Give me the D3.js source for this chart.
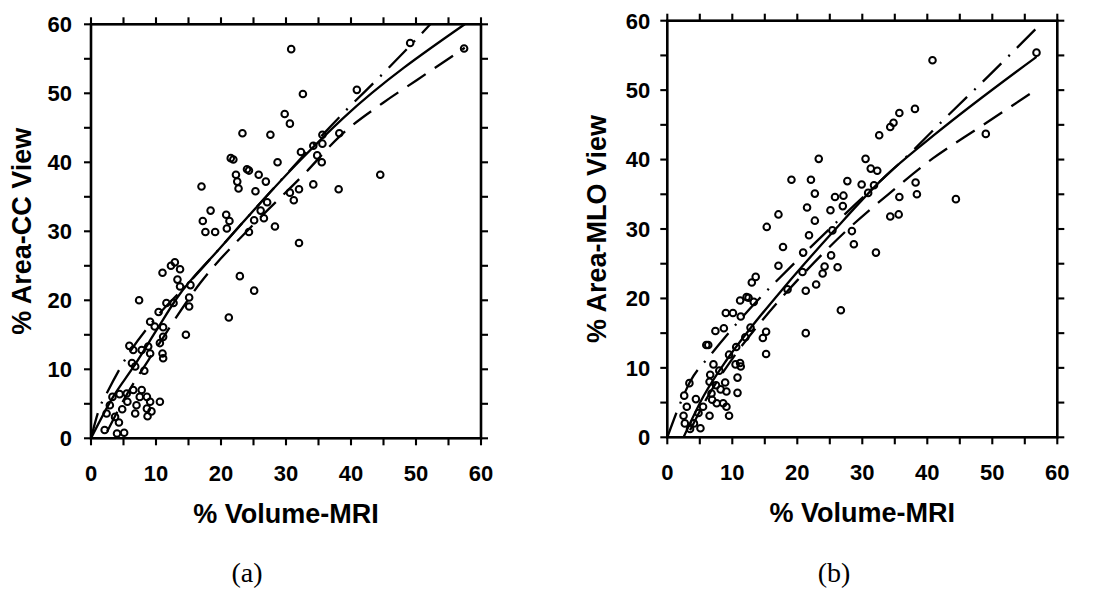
<!DOCTYPE html>
<html>
<head>
<meta charset="utf-8">
<script src="https://cdn.jsdelivr.net/npm/d3@7"></script>
<style>
  body { margin: 0; background: #fff; }
  text { font-family: "Liberation Sans", Arial, sans-serif; font-weight: bold; fill: #000; }
</style>
</head>
<body>
<div id="root"></div>
<script>
// tick values (labels only on multiples of 10)
var tickVals = d3.range(0, 61, 5);
var labelVals = [0, 10, 20, 30, 40, 50, 60];

// panel (a): % Area-CC vs % Volume-MRI
var ccPoints = [
  [30.8,56.4],[49.1,57.3],[57.4,56.5],[32.6,49.9],[40.9,50.5],[29.8,47.0],[30.6,45.6],
  [23.3,44.2],[27.6,44.0],[35.6,44.0],[38.2,44.2],[34.2,42.4],[35.6,42.7],[32.3,41.5],
  [34.8,41.0],[35.5,40.0],[28.7,40.0],[21.5,40.6],[21.9,40.4],[24.0,39.0],[24.3,38.8],[22.3,38.2],
  [22.5,37.2],[22.7,36.2],[25.8,38.2],[26.9,37.2],[17.0,36.5],[25.3,35.8],[30.6,35.6],
  [32.0,36.1],[31.2,34.5],[34.2,36.8],[38.1,36.1],[44.5,38.2],[27.1,34.2],[18.4,33.0],
  [20.8,32.4],[21.3,31.5],[20.9,30.4],[17.2,31.5],[17.6,29.9],[19.1,29.9],[24.3,29.9],
  [26.1,33.0],[26.6,31.9],[25.1,31.6],[28.3,30.7],[32.0,28.3],[22.9,23.5],[25.1,21.4],
  [11.0,24.0],[12.3,25.0],[12.9,25.5],[13.7,24.5],[13.3,23.0],[15.3,22.2],[7.4,20.0],
  [15.1,20.4],[21.2,17.5],[14.6,15.0],[15.1,19.1],[13.7,22.0],[11.6,19.6],[12.7,19.6],
  [10.4,18.3],[9.1,16.9],[9.8,16.2],[11.1,16.1],[11.1,14.7],[10.6,13.8],[11.0,12.3],
  [11.1,11.6],[8.8,13.3],[9.1,12.3],[7.8,12.8],[5.9,13.4],[6.5,12.8],[6.3,10.9],
  [6.8,10.4],[8.2,9.8],[6.5,7.0],[7.8,7.0],[8.6,6.0],[9.1,5.3],[8.6,4.3],[9.3,3.9],
  [8.7,3.2],[10.6,5.3],[7.0,4.8],[6.8,3.6],[7.5,6.0],[5.5,6.5],[5.6,5.3],[4.8,4.2],
  [4.4,6.4],[3.3,6.0],[2.9,4.8],[2.4,3.6],[3.7,3.1],[4.3,2.3],[2.1,1.2],[4.0,0.7],[5.1,0.8]
];
var ccSolid   = [[0,0],[3.4,6],[6.5,10.3],[10.1,15.7],[13.2,20.3],[19.8,27.5],[32.2,40.3],[38.8,46.4],[57.5,60]];
var ccDash    = [[2.5,1],[5,5.5],[10,13],[16.8,22.5],[25,31],[33,38.5],[38.3,43.8],[44.9,48.6],[50.1,51.9],[57.5,56.6]];
var ccDashDot = [[0,0],[1.4,4.6],[2.4,6.5],[5.5,11.8],[10,17.5],[15,22.5],[25,33],[39.3,47.6],[45.5,53.4],[52.2,60]];

// panel (b): % Area-MLO vs % Volume-MRI
var mloPoints = [
  [40.8,54.3],[56.8,55.4],[49.0,43.7],[38.1,47.3],[35.7,46.7],[34.8,45.3],[34.3,44.7],
  [32.6,43.5],[23.3,40.1],[30.5,40.1],[31.3,38.7],[32.3,38.4],[19.1,37.1],[22.1,37.1],
  [27.7,36.9],[29.9,36.4],[31.8,36.3],[30.9,35.2],[38.2,36.7],[38.4,35.0],[35.7,34.6],
  [34.3,31.8],[35.6,32.1],[44.4,34.3],[22.7,35.1],[25.8,34.6],[27.1,34.8],[27.0,33.3],
  [21.5,33.1],[25.1,32.7],[17.1,32.1],[22.7,31.2],[15.3,30.3],[21.8,29.1],[25.4,29.8],
  [28.4,29.7],[28.7,27.8],[32.1,26.6],[17.8,27.4],[20.9,26.6],[25.2,26.2],[17.1,24.7],
  [20.8,23.8],[24.2,24.6],[23.9,23.6],[26.2,24.5],[18.5,21.3],[21.3,21.1],[22.9,22.0],
  [13.6,23.1],[13.0,22.3],[12.2,20.2],[26.7,18.3],[21.3,15.0],[11.2,19.7],[13.3,19.5],
  [12.5,20.1],[9.0,17.9],[10.1,17.9],[11.3,17.4],[7.4,15.3],[8.7,15.7],[6.0,13.3],[6.3,13.3],
  [15.2,15.2],[14.7,14.3],[15.2,12.0],[12.8,15.8],[12.0,14.4],[10.6,13.0],[9.5,11.9],
  [11.2,10.7],[11.3,10.2],[10.5,10.5],[10.8,8.6],[10.8,6.4],[7.1,10.5],[8.0,9.6],
  [6.6,9.0],[6.5,8.0],[7.5,7.5],[8.9,7.9],[8.2,6.9],[9.1,6.6],[6.8,6.3],[6.9,5.4],
  [7.6,4.9],[8.6,4.9],[9.1,4.4],[9.5,3.1],[6.5,3.1],[5.5,4.4],[4.8,3.5],[4.4,5.5],
  [3.4,7.8],[2.6,6.0],[3.0,4.4],[2.5,3.1],[2.7,2.0],[3.5,1.2],[4.1,2.0],[5.1,1.3]
];
var mloSolid   = [[2.5,0],[5.5,5.8],[9.1,11.1],[12.7,15.6],[17.8,21.4],[25.5,29.6],[33.2,37.3],[41.4,43.8],[56.8,54.8]];
var mloDash    = [[3.5,1],[6,5.5],[10,11.3],[15,17.3],[20,22.6],[27.6,29.8],[34,35],[40.9,40.2],[47.8,44.5],[57,50.2]];
var mloDashDot = [[0,0],[2,4.9],[3.5,8],[6.6,11.8],[12.7,18.5],[20,25.5],[30,34.5],[38,41.5],[42.7,45.9],[49.6,52.2],[57,59.1]];

var W = 1099, H = 590;
var svg = d3.select("#root").append("svg")
    .attr("width", W)
    .attr("height", H)
    .style("display", "block");
svg.append("rect").attr("width", W).attr("height", H).attr("fill", "#fff");

function panel(opt) {
    var x = d3.scaleLinear().domain([0, 60]).range([opt.x0, opt.x1]);
    var y = d3.scaleLinear().domain([0, 60]).range([opt.y0, opt.y1]);
    var g = svg.append("g");
    var T = 7; // outward tick length

    // frame
    g.append("rect")
        .attr("x", x(0)).attr("y", y(60))
        .attr("width", x(60) - x(0)).attr("height", y(0) - y(60))
        .attr("fill", "none")
        .attr("stroke", "#000")
        .attr("stroke-width", 2.6);

    // ticks on all four sides, pointing out
    var ticks = g.append("g").attr("stroke", "#000").attr("stroke-width", 2.1);
    ticks.selectAll("line.b").data(tickVals).enter().append("line").attr("class", "b")
        .attr("x1", x).attr("x2", x).attr("y1", y(0)).attr("y2", y(0) + T);
    ticks.selectAll("line.t").data(tickVals).enter().append("line").attr("class", "t")
        .attr("x1", x).attr("x2", x).attr("y1", y(60)).attr("y2", y(60) - T);
    ticks.selectAll("line.l").data(tickVals).enter().append("line").attr("class", "l")
        .attr("y1", y).attr("y2", y).attr("x1", x(0)).attr("x2", x(0) - T);
    ticks.selectAll("line.r").data(tickVals).enter().append("line").attr("class", "r")
        .attr("y1", y).attr("y2", y).attr("x1", x(60)).attr("x2", x(60) + T);

    // fit lines
    var line = d3.line()
        .x(function(d) { return x(d[0]); })
        .y(function(d) { return y(d[1]); })
        .curve(d3.curveMonotoneX);
    [[opt.solid, null], [opt.dash, "22,11"], [opt.dashdot, "26,10,2,10"]].forEach(function(s) {
        g.append("path")
            .attr("d", line(s[0]))
            .attr("fill", "none")
            .attr("stroke", "#000")
            .attr("stroke-width", 2.3)
            .attr("stroke-dasharray", s[1]);
    });

    // data points: small open circles
    g.append("g").selectAll("circle")
        .data(opt.points)
        .enter()
        .append("circle")
        .attr("cx", function(d) { return x(d[0]); })
        .attr("cy", function(d) { return y(d[1]); })
        .attr("r", 3.3)
        .attr("fill", "none")
        .attr("stroke", "#000")
        .attr("stroke-width", 2);

    // tick labels
    g.selectAll("text.xl").data(labelVals).enter().append("text").attr("class", "xl")
        .attr("x", x)
        .attr("y", y(0) + 43)
        .attr("text-anchor", "middle")
        .style("font-size", "22px")
        .text(function(d) { return d; });
    g.selectAll("text.yl").data(labelVals).enter().append("text").attr("class", "yl")
        .attr("x", x(0) - opt.ypad)
        .attr("y", y)
        .attr("dy", "0.36em")
        .attr("text-anchor", "end")
        .style("font-size", "22px")
        .text(function(d) { return d; });

    // axis titles
    g.append("text")
        .attr("x", (opt.x0 + opt.x1) / 2)
        .attr("y", opt.y0 + 85)
        .attr("text-anchor", "middle")
        .style("font-size", "27px")
        .text("% Volume-MRI");
    g.append("text")
        .attr("transform", "translate(" + opt.ylabX + "," + ((opt.y0 + opt.y1) / 2) + ") rotate(-90)")
        .attr("text-anchor", "middle")
        .attr("dy", "0.35em")
        .style("font-size", "27px")
        .text(opt.ytitle);

    // panel caption
    g.append("text")
        .attr("x", opt.capX)
        .attr("y", 582)
        .attr("text-anchor", "middle")
        .style("font-family", "'Liberation Serif', 'Times New Roman', serif")
        .style("font-weight", "normal")
        .style("font-size", "28px")
        .text(opt.caption);
}

panel({x0: 91, x1: 481, y0: 438.3, y1: 24.3, ypad: 19, points: ccPoints,
       solid: ccSolid, dash: ccDash, dashdot: ccDashDot,
       ytitle: "% Area-CC View", ylabX: 22, capX: 247, caption: "(a)"});
panel({x0: 667.3, x1: 1057.3, y0: 437.3, y1: 20.7, ypad: 17, points: mloPoints,
       solid: mloSolid, dash: mloDash, dashdot: mloDashDot,
       ytitle: "% Area-MLO View", ylabX: 597, capX: 834, caption: "(b)"});
</script>
</body>
</html>
